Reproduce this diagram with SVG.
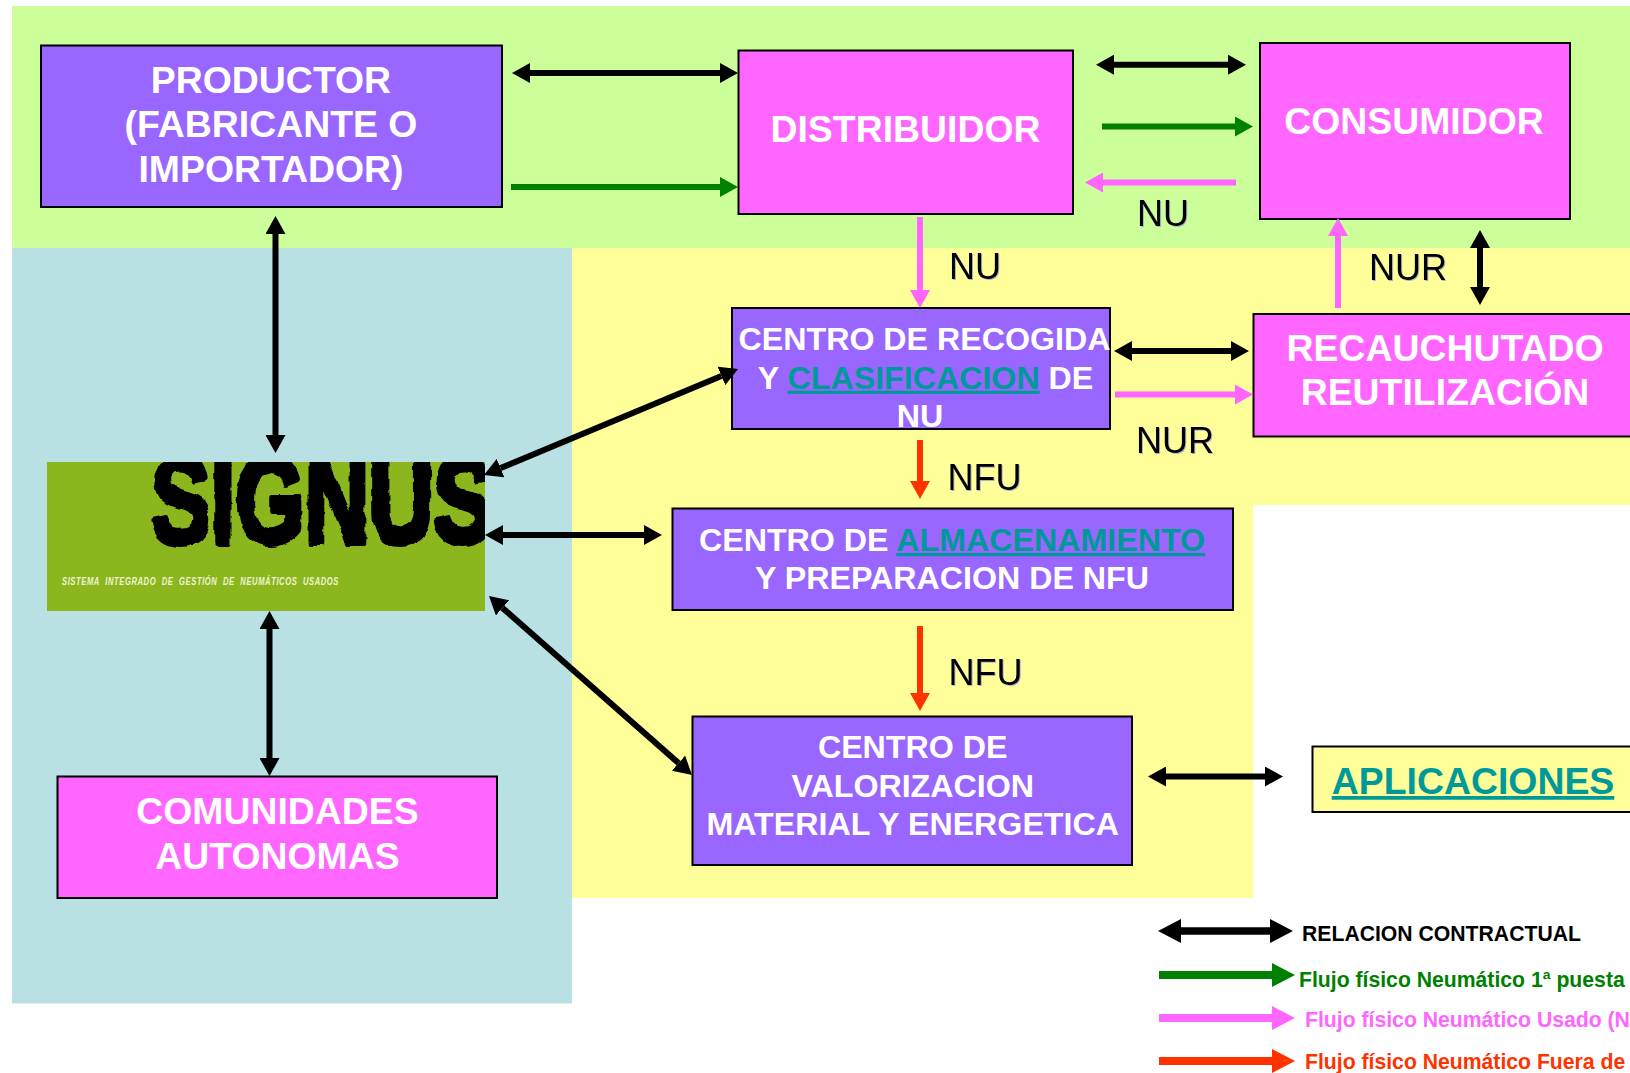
<svg xmlns="http://www.w3.org/2000/svg" width="1630" height="1073" viewBox="0 0 1630 1073">
<style>
text{font-family:"Liberation Sans",Arial,sans-serif;text-anchor:middle}
.box{stroke:#000;stroke-width:2}
.p{fill:#9966ff}
.m{fill:#ff66ff}
.t{font-weight:700;fill:#fff}
.f37{font-size:37.4px}
.f32{font-size:32.2px}
.lnk{fill:#009999;text-decoration:underline}
.lab{font-size:36px;fill:#000;text-anchor:start;filter:drop-shadow(1px 1px 0 #aeb0c8)}
.leg{font-size:21.2px;font-weight:700;text-anchor:start}
.c{fill:none}
.k{stroke:#000;stroke-width:6;marker-start:url(#ak);marker-end:url(#ak)}
.g{stroke:#008000;stroke-width:6;marker-end:url(#ag)}
.i{stroke:#ff66ff;stroke-width:6;marker-end:url(#ai)}
.r{stroke:#ff3300;stroke-width:6;marker-end:url(#ar)}
.lk{stroke:#000;stroke-width:7.5;marker-start:url(#lk);marker-end:url(#lk)}
.lg{stroke:#008000;stroke-width:8;marker-end:url(#lg)}
.li{stroke:#ff66ff;stroke-width:8;marker-end:url(#li)}
.lr{stroke:#ff3300;stroke-width:8;marker-end:url(#lr)}
</style>
<defs>
<marker id="ak" markerUnits="userSpaceOnUse" viewBox="0 0 18 20" refX="0" refY="10" markerWidth="18" markerHeight="20" orient="auto-start-reverse"><path d="M0 0L18 10L0 20Z" fill="#000"/></marker>
<marker id="ag" markerUnits="userSpaceOnUse" viewBox="0 0 18 20" refX="0" refY="10" markerWidth="18" markerHeight="20" orient="auto"><path d="M0 0L18 10L0 20Z" fill="#008000"/></marker>
<marker id="ai" markerUnits="userSpaceOnUse" viewBox="0 0 18 20" refX="0" refY="10" markerWidth="18" markerHeight="20" orient="auto"><path d="M0 0L18 10L0 20Z" fill="#ff66ff"/></marker>
<marker id="ar" markerUnits="userSpaceOnUse" viewBox="0 0 18 20" refX="0" refY="10" markerWidth="18" markerHeight="20" orient="auto"><path d="M0 0L18 10L0 20Z" fill="#ff3300"/></marker>
<marker id="lk" markerUnits="userSpaceOnUse" viewBox="0 0 23 24" refX="0" refY="12" markerWidth="23" markerHeight="24" orient="auto-start-reverse"><path d="M0 0L23 12L0 24Z" fill="#000"/></marker>
<marker id="lg" markerUnits="userSpaceOnUse" viewBox="0 0 23 24" refX="0" refY="12" markerWidth="23" markerHeight="24" orient="auto"><path d="M0 0L23 12L0 24Z" fill="#008000"/></marker>
<marker id="li" markerUnits="userSpaceOnUse" viewBox="0 0 23 24" refX="0" refY="12" markerWidth="23" markerHeight="24" orient="auto"><path d="M0 0L23 12L0 24Z" fill="#ff66ff"/></marker>
<marker id="lr" markerUnits="userSpaceOnUse" viewBox="0 0 23 24" refX="0" refY="12" markerWidth="23" markerHeight="24" orient="auto"><path d="M0 0L23 12L0 24Z" fill="#ff3300"/></marker>
<clipPath id="logoclip"><rect x="47" y="462" width="438" height="149"/></clipPath>
<filter id="rough" x="-5%" y="-5%" width="110%" height="110%"><feTurbulence type="fractalNoise" baseFrequency="0.06" numOctaves="2" seed="7"/><feDisplacementMap in="SourceGraphic" scale="7" xChannelSelector="R" yChannelSelector="G"/><feGaussianBlur stdDeviation="0.5"/></filter>
</defs>
<g id="background">
<rect x="12" y="6" width="1618" height="242" fill="#ccff99"/>
<rect x="12" y="248" width="560" height="755.500" fill="#b9e0e3"/>
<path d="M572 248H1630V505H1253V898H572Z" fill="#ffff99"/>
</g>
<g id="node-productor"><rect class="box p" x="41" y="45.500" width="461" height="161.500"/>
<text class="t f37" x="271" y="93">PRODUCTOR</text><text class="t f37" x="271" y="136.500">(FABRICANTE O</text><text class="t f37" x="271" y="181.500">IMPORTADOR)</text></g>
<g id="node-distribuidor"><rect class="box m" x="738.500" y="50.500" width="334.500" height="163.500"/><text class="t f37" x="905.500" y="142">DISTRIBUIDOR</text></g>
<g id="node-consumidor"><rect class="box m" x="1260" y="43" width="310" height="176"/><text class="t f37" x="1414" y="134">CONSUMIDOR</text></g>
<g id="node-recauchutado"><rect class="box m" x="1253.500" y="314" width="390" height="122.500"/><text class="t f37" x="1445" y="361">RECAUCHUTADO</text><text class="t f37" x="1445" y="404.500">REUTILIZACIÓN</text></g>
<g id="node-recogida"><rect class="box p" x="732" y="308" width="378" height="121"/>
<text class="t f32" x="924.500" y="350">CENTRO DE RECOGIDA</text>
<text class="t f32" x="925.500" y="388.700">Y <tspan class="lnk">CLASIFICACION</tspan> DE</text>
<text class="t f32" x="920" y="427">NU</text></g>
<g id="node-almacenamiento"><rect class="box p" x="672.500" y="508.500" width="560.500" height="101.500"/>
<text class="t f32" x="952" y="551">CENTRO DE <tspan class="lnk">ALMACENAMIENTO</tspan></text>
<text class="t f32" x="952" y="588.500">Y PREPARACION DE NFU</text></g>
<g id="node-valorizacion"><rect class="box p" x="692.500" y="716.500" width="439.500" height="148.500"/>
<text class="t f32" x="912.700" y="757.500">CENTRO DE</text><text class="t f32" x="912.700" y="797">VALORIZACION</text><text class="t f32" x="912.700" y="835">MATERIAL Y ENERGETICA</text></g>
<g id="node-comunidades"><rect class="box m" x="57.500" y="776.500" width="439.500" height="121.500"/>
<text class="t f37" x="277.500" y="824">COMUNIDADES</text><text class="t f37" x="277.500" y="869">AUTONOMAS</text></g>
<g id="node-aplicaciones"><rect class="box" x="1312.500" y="746.500" width="330" height="65.500" fill="#ffff99"/>
<text class="t f37 lnk" style="fill:#009999" x="1473" y="794">APLICACIONES</text></g>
<g id="node-signus"><rect x="47" y="462" width="438" height="149" fill="#8cb61e"/>
<g clip-path="url(#logoclip)"><text x="151" y="543" font-size="122" font-weight="700" textLength="342" lengthAdjust="spacingAndGlyphs" filter="url(#rough)" style="text-anchor:start;stroke:#000;stroke-width:6;stroke-linejoin:round">SIGNUS</text></g>
<text x="62" y="585" font-size="10.500" font-weight="700" font-style="italic" fill="#eef4d2" textLength="277" lengthAdjust="spacingAndGlyphs" letter-spacing="0.8" word-spacing="4" style="text-anchor:start">SISTEMA INTEGRADO DE GESTIÓN DE NEUMÁTICOS USADOS</text></g>
<g id="connectors">
<line class="c k" x1="530" y1="73" x2="720" y2="73"/>
<line class="c g" x1="511" y1="187" x2="720" y2="187"/>
<line class="c k" x1="1114" y1="64.700" x2="1228" y2="64.700"/>
<line class="c g" x1="1102" y1="126.500" x2="1235" y2="126.500"/>
<line class="c i" x1="1236" y1="182.500" x2="1103" y2="182.500"/>
<line class="c i" x1="920" y1="217" x2="920" y2="290"/>
<line class="c i" x1="1338" y1="308" x2="1338" y2="236"/>
<line class="c k" x1="1480" y1="248" x2="1480" y2="287"/>
<line class="c k" x1="1132" y1="351" x2="1231" y2="351"/>
<line class="c i" x1="1115" y1="394.500" x2="1235" y2="394.500"/>
<line class="c r" x1="920" y1="440" x2="920" y2="481"/>
<line class="c r" x1="920" y1="626" x2="920" y2="693"/>
<line class="c k" x1="1166" y1="776.500" x2="1265" y2="776.500"/>
<line class="c k" x1="275.500" y1="234" x2="275.500" y2="435"/>
<line class="c k" x1="269.500" y1="629" x2="269.500" y2="758"/>
<line class="c k" x1="500.600" y1="468.100" x2="721.400" y2="375.900"/>
<line class="c k" x1="503" y1="535" x2="644" y2="535"/>
<line class="c k" x1="502.500" y1="607.900" x2="678.500" y2="763.100"/>
</g>
<g id="labels">
<text class="lab" x="1137" y="226">NU</text>
<text class="lab" x="949" y="279">NU</text>
<text class="lab" x="1369" y="280">NUR</text>
<text class="lab" x="1136" y="453">NUR</text>
<text class="lab" x="947.500" y="489.500">NFU</text>
<text class="lab" x="948.500" y="685">NFU</text>
</g>
<g id="legend">
<line class="c lk" x1="1181" y1="931" x2="1270" y2="931"/>
<line class="c lg" x1="1159" y1="975" x2="1272" y2="975"/>
<line class="c li" x1="1159" y1="1018" x2="1272" y2="1018"/>
<line class="c lr" x1="1159" y1="1061" x2="1272" y2="1061"/>
<text class="leg" x="1302" y="941" fill="#000">RELACION CONTRACTUAL</text>
<text class="leg" x="1299" y="987" fill="#008000">Flujo físico Neumático 1ª puesta</text>
<text class="leg" x="1305" y="1027" fill="#ff66ff">Flujo físico Neumático Usado (N</text>
<text class="leg" x="1305" y="1069" fill="#ff3300">Flujo físico Neumático Fuera de</text>
</g>
</svg>
